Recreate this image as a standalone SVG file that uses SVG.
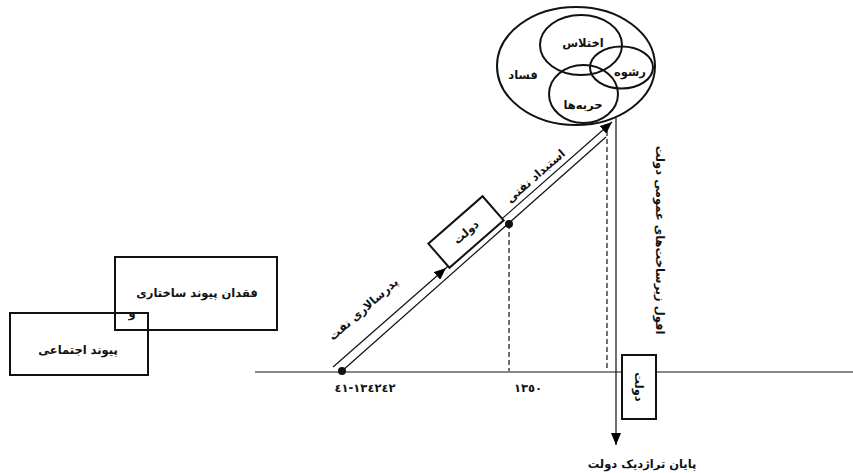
<svg xmlns="http://www.w3.org/2000/svg" width="853" height="473" viewBox="0 0 853 473">
<defs>
<marker id="arr" viewBox="0 0 12 10" refX="12" refY="5" markerWidth="12" markerHeight="10" markerUnits="userSpaceOnUse" orient="auto">
<path d="M0,0 L12,5 L0,10 Z" fill="#000"/>
</marker>
<style>
text{font-family:"DejaVu Sans",sans-serif;font-size:11.5px;font-weight:bold;fill:#111;text-anchor:middle}
.box{fill:none;stroke:#111;stroke-width:2}
.wbox{fill:#fff;stroke:#111;stroke-width:2}
.ln{fill:none;stroke:#111;stroke-width:1.2}
.dash{fill:none;stroke:#111;stroke-width:1.2;stroke-dasharray:5 3}
.circ{fill:none;stroke:#111;stroke-width:2}
</style>
</defs>
<rect width="853" height="473" fill="#fff"/>

<g id="connectors">
<line class="ln" x1="255" y1="372" x2="853" y2="372"/>
<line class="ln" x1="333" y1="367" x2="446" y2="268" marker-end="url(#arr)"/>
<line class="ln" x1="446" y1="268" x2="612" y2="122" marker-end="url(#arr)"/>
<line class="ln" x1="342" y1="371" x2="606" y2="137"/>
<line class="dash" x1="509" y1="224" x2="509" y2="371"/>
<line class="dash" x1="607" y1="131" x2="607" y2="370"/>
<line class="ln" x1="616" y1="118" x2="616" y2="445" marker-end="url(#arr)"/>
<circle cx="342" cy="371" r="4" fill="#111"/>
<circle cx="509" cy="224" r="4" fill="#111"/>
<text transform="translate(366,312) rotate(-41.2)">پدرسالاری نفت</text>
<text transform="translate(538,179) rotate(-41.2)">استبداد نفتی</text>
<text transform="translate(660,240) rotate(90)" y="4">افول زیرساخت‌های عمومی دولت</text>
<text x="642" y="468">پایان تراژدیک دولت</text>
<text x="365" y="392" direction="ltr" unicode-bidi="bidi-override">٤١-١٣٤٢٤٢</text>
<text x="528" y="392">١٣٥٠</text>
</g>

<g id="node-corruption">
<ellipse class="circ" cx="576" cy="66" rx="79" ry="59"/>
<ellipse class="circ" cx="581" cy="45" rx="41" ry="30"/>
<ellipse class="circ" cx="621.5" cy="67.5" rx="31.5" ry="21"/>
<ellipse class="circ" cx="583.5" cy="94" rx="34.5" ry="29"/>
<text x="583" y="47">اختلاس</text>
<text x="630" y="76">رشوه</text>
<text x="523" y="79">فساد</text>
<text x="583" y="109">حربه‌ها</text>
</g>

<g id="node-state-diag">
<g transform="translate(466,232) rotate(-41.2)">
<rect class="wbox" x="-36" y="-16" width="72" height="32"/>
<text y="4">دولت</text>
</g>
</g>

<g id="node-state-axis">
<rect class="wbox" x="622" y="355" width="34" height="64"/>
<text transform="translate(639,387) rotate(90)" y="4">دولت</text>
</g>

<g id="node-structural">
<rect class="box" x="115" y="257" width="162" height="73"/>
<text x="197" y="297">فقدان پیوند ساختاری</text>
<text x="132" y="317">و</text>
</g>

<g id="node-social">
<rect class="box" x="10" y="313" width="138" height="62"/>
<text x="78" y="354">پیوند اجتماعی</text>
</g>
</svg>
